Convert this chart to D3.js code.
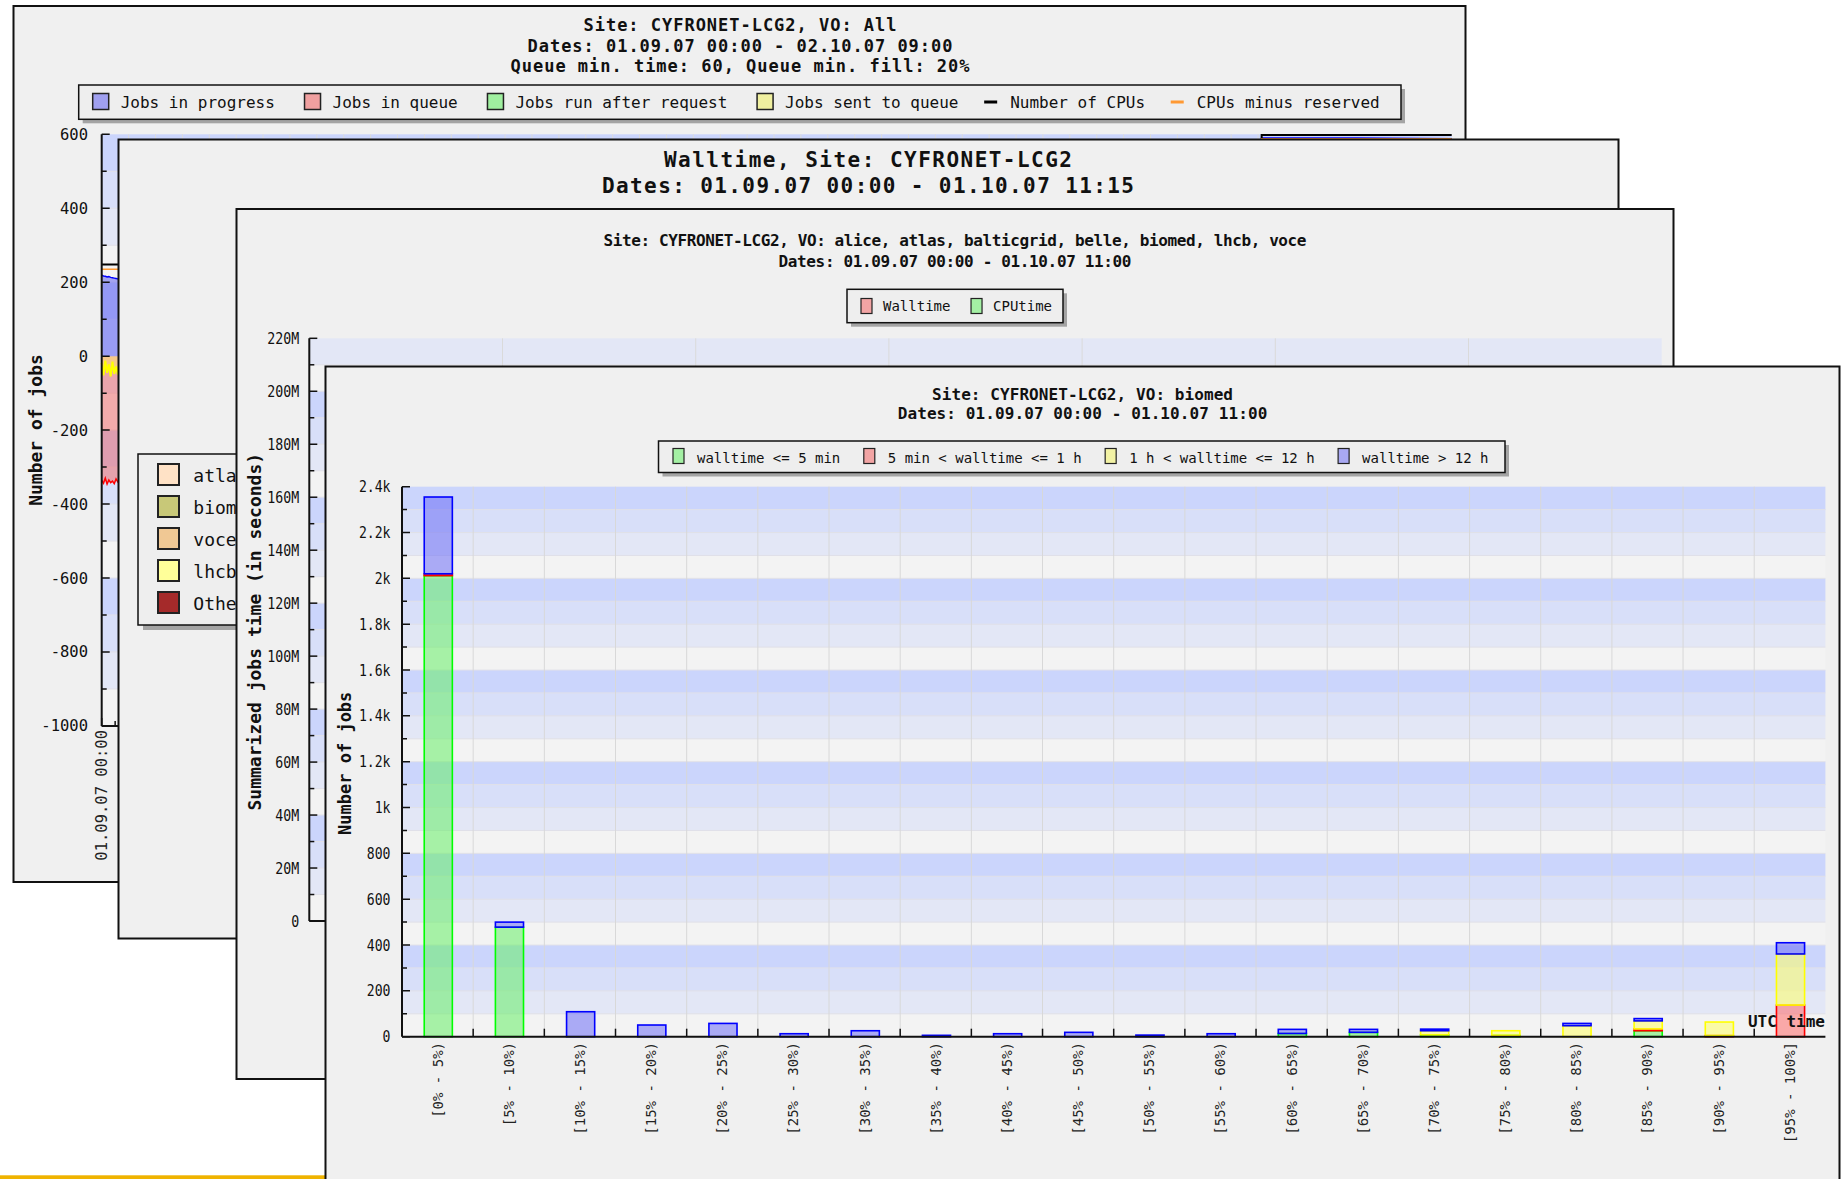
<!DOCTYPE html>
<html><head><meta charset="utf-8">
<script src="https://cdn.jsdelivr.net/npm/d3@7"></script>
<style>
html,body{margin:0;padding:0;background:#fff;}
svg{display:block;}
text{font-family:"DejaVu Sans Mono",monospace;}
</style></head><body>
<svg id="chart" width="1841" height="1179"></svg>
<script>
// ================= DATA =================
// Front window: Site CYFRONET-LCG2, VO biomed (efficiency bins)
const bins = ["[0% - 5%)","[5% - 10%)","[10% - 15%)","[15% - 20%)","[20% - 25%)","[25% - 30%)",
  "[30% - 35%)","[35% - 40%)","[40% - 45%)","[45% - 50%)","[50% - 55%)","[55% - 60%)",
  "[60% - 65%)","[65% - 70%)","[70% - 75%)","[75% - 80%)","[80% - 85%)","[85% - 90%)",
  "[90% - 95%)","[95% - 100%]"];
const wallLe5min   = [2012,478,0,0,0,0,0,0,0,0,0,0,14,19,8,6,0,26,0,0];
const wall5minTo1h = [8,0,0,0,0,0,0,0,0,0,0,0,0,0,0,0,0,8,5,138];
const wall1hTo12h  = [0,0,0,0,0,0,0,0,0,0,0,0,0,0,18,20,48,35,59,223];
const wallGt12h    = [335,22,109,51,58,13,26,6,13,19,7,13,18,13,7,0,10,10,0,49];
const frontLegend  = ["walltime <= 5 min","5 min < walltime <= 1 h","1 h < walltime <= 12 h","walltime > 12 h"];
const frontYTicks  = [0,200,400,600,800,1000,1200,1400,1600,1800,2000,2200,2400];
const frontYLabels = ["0","200","400","600","800","1k","1.2k","1.4k","1.6k","1.8k","2k","2.2k","2.4k"];

// Window 3: walltime / CPUtime per VO (bars hidden behind front window)
const w3VOs = ["alice","atlas","balticgrid","belle","biomed","lhcb","voce"];
const w3YTicks = [0,20,40,60,80,100,120,140,160,180,200,220]; // in millions
const w3Legend = ["Walltime","CPUtime"];

// Window 2: walltime per VO legend
const w2Legend = ["atlas","biomed","voce","lhcb","Other"];

// Window 1: VO All, jobs time series (hours since 01.09.07 00:00)
const w1Hours    = [0,1,2,3,4,5,6,7,8,9,10,11,12,24,72,168,336,504,600,646,647,700,753];
const w1Progress = [219,217,216,214,215,213,212,211,210,209,208,208,207,205,200,195,205,210,215,220,590,590,588];
const w1Queue    = [-336,-344,-330,-346,-335,-342,-338,-345,-332,-340,-337,-343,-339,-330,-300,-250,-220,-200,-180,-150,-60,-50,-40];
const w1Sent     = [-18,-52,-12,-45,-22,-55,-15,-48,-28,-50,-10,-40,-25,-20,-15,-12,-10,-10,-8,-8,-5,-5,-5];
const w1Cpus     = [248,248,248,248,248,248,248,248,248,248,248,248,248,248,248,248,248,248,248,248,598,598,598];
const w1Reserved = [235,235,235,235,235,235,235,235,235,235,235,235,235,235,235,235,235,235,235,235,588,588,588];
const w1Legend   = ["Jobs in progress","Jobs in queue","Jobs run after request","Jobs sent to queue","Number of CPUs","CPUs minus reserved"];
const w1YTicks   = [-1000,-800,-600,-400,-200,0,200,400,600];

// ================= HELPERS =================
const svg = d3.select("#chart");
svg.append("rect").attr("width",1841).attr("height",1179).attr("fill","#ffffff");
const bandColors = ["#f3f3f3","#e3e7f6","#d8dff9","#cbd5fc"];

function addWindow(id,x,y,w,h){
  svg.append("clipPath").attr("id",id).append("rect").attr("x",x).attr("y",y).attr("width",w).attr("height",h);
  const g = svg.append("g");
  g.append("rect").attr("x",x).attr("y",y).attr("width",w).attr("height",h).attr("fill","#f0f0f0");
  const inner = g.append("g").attr("clip-path",`url(#${id})`);
  g.append("rect").attr("x",x).attr("y",y).attr("width",w).attr("height",h)
    .attr("fill","none").attr("stroke","#111").attr("stroke-width",2);
  return inner;
}
function txt(g,x,y,s,o={}){
  const t = g.append("text").attr("x",x).attr("y",y).text(s)
    .attr("font-size",o.size||14).attr("font-weight",o.bold?"bold":"normal")
    .attr("text-anchor",o.anchor||"start").attr("fill",o.fill||"#111");
  if(o.len){t.attr("textLength",o.len).attr("lengthAdjust",o.adj||"spacingAndGlyphs");}
  if(o.rot){t.attr("transform",`rotate(-90,${x},${y})`);}
  return t;
}
function bands(g,yS,min,max,minor,x0,x1){
  for(let v=min; v<max-1e-9; v+=minor){
    const k = Math.round((v-min)/minor)%4;
    g.append("rect").attr("x",x0).attr("width",x1-x0)
      .attr("y",yS(v+minor)).attr("height",yS(v)-yS(v+minor)).attr("fill",bandColors[k]);
  }
  for(let v=min+minor; v<max-1e-9; v+=minor){
    g.append("line").attr("x1",x0).attr("x2",x1).attr("y1",yS(v)).attr("y2",yS(v))
      .attr("stroke","#e0e0e8").attr("stroke-width",1);
  }
}
function yAxis(g,yS,x,min,max,minor,major){
  g.append("line").attr("x1",x).attr("x2",x).attr("y1",yS(min)).attr("y2",yS(max)).attr("stroke","#111").attr("stroke-width",2);
  for(let v=min; v<=max+1e-9; v+=minor){
    const isMaj = Math.abs(((v-min)/major)-Math.round((v-min)/major))<1e-6;
    g.append("line").attr("x1",x).attr("x2",x+(isMaj?8:5)).attr("y1",yS(v)).attr("y2",yS(v)).attr("stroke","#111").attr("stroke-width",1.5);
  }
}
function legendBox(g,x,y,w,h,off){
  g.append("rect").attr("x",x+off).attr("y",y+off).attr("width",w).attr("height",h).attr("fill","#a4a4a4");
  g.append("rect").attr("x",x).attr("y",y).attr("width",w).attr("height",h).attr("fill","#eeeeee").attr("stroke","#111").attr("stroke-width",1.5);
}

// ================= WINDOW 1 =================
{
  const g = addWindow("w1",13.5,6,1452,876);
  const cx = 740;
  txt(g,cx,31,"Site: CYFRONET-LCG2, VO: All",{size:17,bold:true,anchor:"middle",len:313,adj:"spacing"});
  txt(g,cx,51.5,"Dates: 01.09.07 00:00 - 02.10.07 09:00",{size:17,bold:true,anchor:"middle",len:425,adj:"spacing"});
  txt(g,cx,72,"Queue min. time: 60, Queue min. fill: 20%",{size:17,bold:true,anchor:"middle",len:459,adj:"spacing"});

  legendBox(g,78.7,85,1322.3,34.3,4);
  const lc = [{t:"box",c:"#a0a0f0"},{t:"box",c:"#f0a0a0"},{t:"box",c:"#a0f0a0"},{t:"box",c:"#f0f0a0"},{t:"line",c:"#000"},{t:"line",c:"#ff9933"}];
  let lx = 92.7;
  w1Legend.forEach((s,i)=>{
    if(lc[i].t==="line") lx -= 6;
    if(lc[i].t==="box"){
      g.append("rect").attr("x",lx).attr("y",93.5).attr("width",16).attr("height",16).attr("fill",lc[i].c).attr("stroke","#222").attr("stroke-width",1.5);
    } else {
      g.append("line").attr("x1",lx+2).attr("x2",lx+15).attr("y1",102).attr("y2",102).attr("stroke",lc[i].c).attr("stroke-width",3);
    }
    const t = txt(g,lx+28,107.5,s,{size:16});
    lx += 28 + t.node().getComputedTextLength() + 29.7;
  });

  const X0=101.7, X1=1451.7;
  const start = new Date(2007,8,1,0,0), end = new Date(2007,9,2,9,0);
  const xs = d3.scaleTime().domain([start,end]).range([X0,X1]);
  const ys = d3.scaleLinear().domain([-1000,600]).range([725.9,134.3]);
  const pg = g.append("g");
  bands(pg,ys,-1000,600,100,X0,X1);
  const toDate = h => new Date(+start + h*3600e3);
  d3.range(15,753,15).forEach(h=>{
    pg.append("line").attr("x1",xs(toDate(h))).attr("x2",xs(toDate(h))).attr("y1",ys(600)).attr("y2",ys(-1000)).attr("stroke","#dcdcdc").attr("stroke-width",1);
  });
  const pts = w1Hours.map((h,i)=>({t:toDate(h),p:w1Progress[i],q:w1Queue[i],s:w1Sent[i],c:w1Cpus[i],r:w1Reserved[i]}));
  const area = k => d3.area().x(d=>xs(d.t)).y0(ys(0)).y1(d=>ys(d[k]));
  const line = (k,cur) => d3.line().x(d=>xs(d.t)).y(d=>ys(d[k])).curve(cur||d3.curveLinear);
  pg.append("path").datum(pts).attr("d",area("q")).attr("fill","#f07070").attr("fill-opacity",0.55);
  pg.append("path").datum(pts).attr("d",line("q")).attr("fill","none").attr("stroke","#ff0000").attr("stroke-width",1.5);
  pg.append("path").datum(pts).attr("d",area("s")).attr("fill","#ffee66").attr("fill-opacity",0.5);
  pg.append("path").datum(pts).attr("d",line("s")).attr("fill","none").attr("stroke","#ffff00").attr("stroke-width",2);
  pg.append("path").datum(pts).attr("d",area("p")).attr("fill","#7070f0").attr("fill-opacity",0.6);
  pg.append("path").datum(pts).attr("d",line("p")).attr("fill","none").attr("stroke","#0000ff").attr("stroke-width",1.5);
  pg.append("path").datum(pts).attr("d",line("c",d3.curveStepAfter)).attr("fill","none").attr("stroke","#000").attr("stroke-width",2);
  pg.append("path").datum(pts).attr("d",line("r",d3.curveStepAfter)).attr("fill","none").attr("stroke","#ff9933").attr("stroke-width",1.5);

  yAxis(g,ys,X0,-1000,600,100,200);
  w1YTicks.forEach(v=>txt(g,88,ys(v)+5.5,String(v),{size:15.5,anchor:"end"}));
  g.append("line").attr("x1",X0).attr("x2",X1).attr("y1",ys(-1000)).attr("y2",ys(-1000)).attr("stroke","#111").attr("stroke-width",2);
  const fmt = d3.timeFormat("%d.%m.%y %H:%M");
  d3.range(0,753,7.5).forEach((h,i)=>{
    const x = xs(toDate(h));
    g.append("line").attr("x1",x).attr("x2",x).attr("y1",ys(-1000)).attr("y2",ys(-1000)-(i%2?5:8)).attr("stroke","#111").attr("stroke-width",1.5);
    if(i%2===0) txt(g,x+5.5,730,fmt(toDate(h)),{size:15.5,anchor:"end",rot:true,fill:"#222"});
  });
  txt(g,42,430,"Number of jobs",{size:18,bold:true,anchor:"middle",rot:true});
}

// ================= WINDOW 2 =================
{
  const g = addWindow("w2",118.5,139.5,1500,799);
  txt(g,868,166.7,"Walltime, Site: CYFRONET-LCG2",{size:21,bold:true,anchor:"middle",len:408,adj:"spacing"});
  txt(g,868,193.3,"Dates: 01.09.07 00:00 - 01.10.07 11:15",{size:21,bold:true,anchor:"middle",len:532,adj:"spacing"});
  legendBox(g,138,454,130,171,5);
  const cols = ["#ffe2c6","#c8c878","#f0c894","#ffff99","#a52a2a"];
  w2Legend.forEach((s,i)=>{
    const y = 464 + i*32;
    g.append("rect").attr("x",158).attr("y",y).attr("width",21).attr("height",21).attr("fill",cols[i]).attr("stroke","#222").attr("stroke-width",2);
    txt(g,193.3,y+18,s,{size:18});
  });
}

// ================= WINDOW 3 =================
{
  const g = addWindow("w3",236.5,209,1437,870);
  txt(g,955,246,"Site: CYFRONET-LCG2, VO: alice, atlas, balticgrid, belle, biomed, lhcb, voce",{size:16,bold:true,anchor:"middle",len:703,adj:"spacing"});
  txt(g,955,266.7,"Dates: 01.09.07 00:00 - 01.10.07 11:00",{size:16,bold:true,anchor:"middle",len:353,adj:"spacing"});
  legendBox(g,847,289.3,216,33.4,4);
  const lc = ["#f2a4a4","#a4f0a4"];
  let lx = 861;
  w3Legend.forEach((s,i)=>{
    g.append("rect").attr("x",lx).attr("y",298.5).attr("width",11).attr("height",15).attr("fill",lc[i]).attr("stroke","#222").attr("stroke-width",1.2);
    const t = txt(g,lx+22,311,s,{size:14});
    lx += 22 + t.node().getComputedTextLength() + 20.6;
  });
  const X0=309.3, X1=1661.7;
  const xs = d3.scaleBand().domain(w3VOs).range([X0,X1]);
  const ys = d3.scaleLinear().domain([0,220]).range([921,338.3]);
  const pg = g.append("g");
  bands(pg,ys,0,220,10,X0,X1);
  w3VOs.slice(1).forEach(v=>{
    const x = xs(v);
    pg.append("line").attr("x1",x).attr("x2",x).attr("y1",ys(220)).attr("y2",ys(0)).attr("stroke","#dadada").attr("stroke-width",1);
  });
  yAxis(g,ys,X0,0,220,10,20);
  g.append("line").attr("x1",X0).attr("x2",X1).attr("y1",ys(0)).attr("y2",ys(0)).attr("stroke","#111").attr("stroke-width",2);
  w3YTicks.forEach(v=>{
    const s = v===0?"0":v+"M";
    txt(g,299.3,ys(v)+5.5,s,{size:16,anchor:"end",len:s.length*8});
  });
  txt(g,261.5,631.7,"Summarized jobs time (in seconds)",{size:18,bold:true,anchor:"middle",rot:true});
}

// gold strip at the bottom left
svg.append("rect").attr("x",0).attr("y",1175.3).attr("width",326).attr("height",4).attr("fill","#efb300");

// ================= WINDOW 4 (front) =================
{
  const g = addWindow("w4",325.5,366.5,1514,900);
  txt(g,1082.5,400,"Site: CYFRONET-LCG2, VO: biomed",{size:16,bold:true,anchor:"middle",len:301,adj:"spacing"});
  txt(g,1082.5,419,"Dates: 01.09.07 00:00 - 01.10.07 11:00",{size:16,bold:true,anchor:"middle",len:369.6,adj:"spacing"});

  legendBox(g,658.5,441,846.5,31.5,4);
  const lcol = ["#a4f0a4","#f2a4a4","#f2f2a4","#a8a8f2"];
  let lx = 673;
  frontLegend.forEach((s,i)=>{
    g.append("rect").attr("x",lx).attr("y",448.5).attr("width",11).attr("height",15).attr("fill",lcol[i]).attr("stroke","#222").attr("stroke-width",1.2);
    const t = txt(g,lx+24,463,s,{size:14});
    lx += 24 + t.node().getComputedTextLength() + 23.5;
  });

  const X0=402, X1=1825.4;
  const xs = d3.scaleBand().domain(bins).range([X0,X1]);
  const ys = d3.scaleLinear().domain([0,2400]).range([1036.7,486.7]);
  const pg = g.append("g");
  bands(pg,ys,0,2400,100,X0,X1);
  bins.slice(1).forEach(b=>{
    const x = xs(b);
    pg.append("line").attr("x1",x).attr("x2",x).attr("y1",ys(2400)).attr("y2",ys(0)).attr("stroke","#d8d8d8").attr("stroke-width",1);
  });

  const rows = bins.map((b,i)=>({bin:b,g:wallLe5min[i],r:wall5minTo1h[i],y:wall1hTo12h[i],b:wallGt12h[i]}));
  const stack = d3.stack().keys(["g","r","y","b"])(rows);
  const styles = {g:{f:"#66ee66",s:"#00ff00"},r:{f:"#ff6a6a",s:"#ff0000"},y:{f:"#ffff66",s:"#ffff00"},b:{f:"#6e6ef6",s:"#0000ff"}};
  const bw = xs.bandwidth()*0.395;
  stack.forEach(layer=>{
    const st = styles[layer.key];
    pg.selectAll(null).data(layer.filter(d=>d[1]-d[0]>0)).enter().append("rect")
      .attr("x",d=>xs(d.data.bin)+(xs.bandwidth()-bw)/2+0.7)
      .attr("width",bw)
      .attr("y",d=>ys(d[1]))
      .attr("height",d=>ys(d[0])-ys(d[1]))
      .attr("fill",st.f).attr("fill-opacity",0.55)
      .attr("stroke",st.s).attr("stroke-width",1.6);
  });

  yAxis(g,ys,X0,0,2400,100,200);
  g.append("line").attr("x1",X0).attr("x2",X1).attr("y1",ys(0)).attr("y2",ys(0)).attr("stroke","#111").attr("stroke-width",2);
  bins.forEach((b,i)=>{
    if(i===0) return;
    const x = xs(b);
    g.append("line").attr("x1",x).attr("x2",x).attr("y1",ys(0)).attr("y2",ys(0)-8).attr("stroke","#111").attr("stroke-width",1.5);
  });
  frontYTicks.forEach((v,i)=>{
    const s = frontYLabels[i];
    txt(g,390.5,ys(v)+5.5,s,{size:16,anchor:"end",len:s.length*7.9});
  });
  bins.forEach(b=>{
    const x = xs(b)+xs.bandwidth()/2;
    txt(g,x+5,1042,b,{size:14,anchor:"end",rot:true,fill:"#222"});
  });
  txt(g,351.5,763.3,"Number of jobs",{size:17,bold:true,anchor:"middle",rot:true});
  txt(g,1825,1026.5,"UTC time",{size:16,bold:true,anchor:"end"});
}
</script>
</body></html>
